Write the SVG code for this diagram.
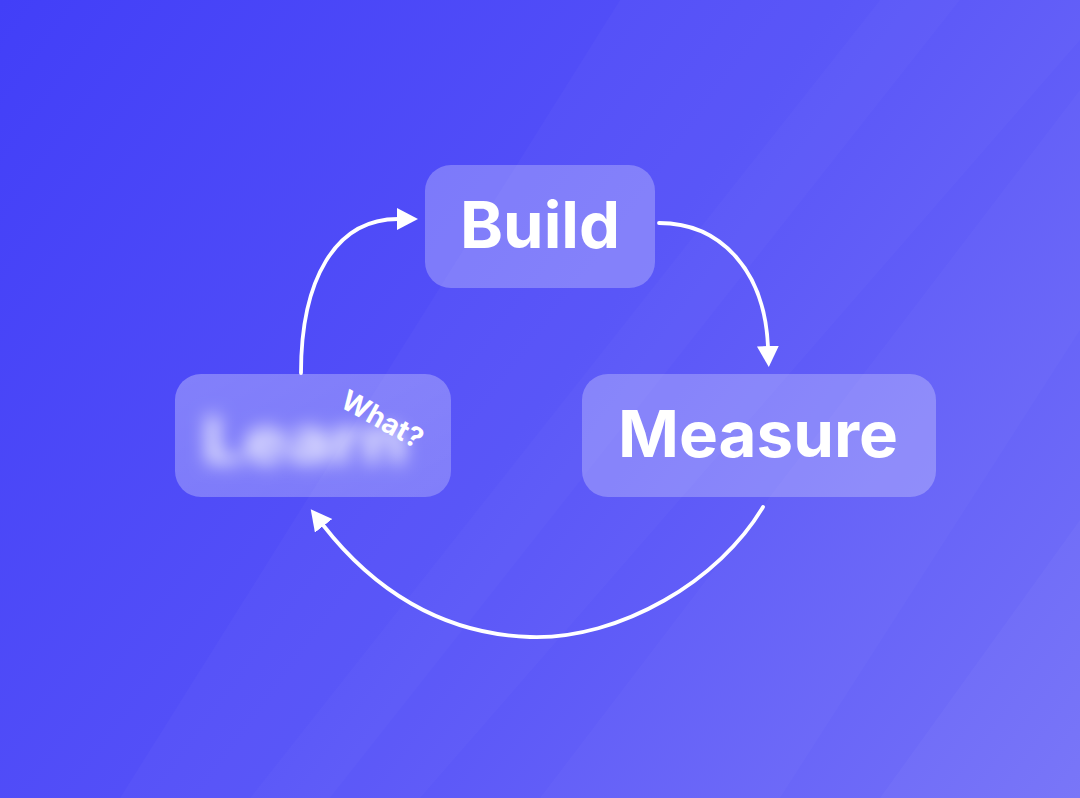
<svg xmlns="http://www.w3.org/2000/svg" width="1080" height="798" viewBox="0 0 1080 798">
<style>
.label{font-family:"Inter","Poppins","Liberation Sans",sans-serif;font-weight:700;fill:#ffffff;text-anchor:middle}
.conn{fill:none;stroke:#ffffff;stroke-width:3.8;stroke-linecap:round}
.box{fill:#ffffff;fill-opacity:0.26}
.streak{fill:#ffffff}
</style>
<defs>
<linearGradient id="bg" x1="0" y1="0" x2="1080" y2="798" gradientUnits="userSpaceOnUse">
<stop offset="0" stop-color="#423ff8"/>
<stop offset="0.5" stop-color="#5652f8"/>
<stop offset="1" stop-color="#7572f8"/>
</linearGradient>
<linearGradient id="learnFill" x1="0" y1="0" x2="1" y2="1">
<stop offset="0" stop-color="#ffffff" stop-opacity="0.30"/>
<stop offset="1" stop-color="#ffffff" stop-opacity="0.24"/>
</linearGradient>
<filter id="blur" x="-20%" y="-60%" width="140%" height="220%">
<feGaussianBlur stdDeviation="9"/>
</filter>
<marker id="head" markerUnits="userSpaceOnUse" markerWidth="24" markerHeight="26" refX="1" refY="11" orient="auto">
<polygon points="0,0 21,11 0,22" fill="#ffffff"/>
</marker>
</defs>
<rect width="1080" height="798" fill="url(#bg)"/>
<g id="streaks">
<polygon class="streak" fill-opacity="0.025" points="120,798 620,0 1080,0 1080,40 420,798"/>
<polygon class="streak" fill-opacity="0.025" points="540,798 1080,90 1080,330 780,798"/>
<polygon class="streak" fill-opacity="0.03" points="880,798 1080,520 1080,798"/>
<polygon class="streak" fill-opacity="0.02" points="250,798 880,0 960,0 330,798"/>
</g>
<g id="connectors">
<path class="conn" d="M301,373 C301,280 335,219 398,219" marker-end="url(#head)"/>
<path class="conn" d="M659,223 C722,223 765,272 768,347" marker-end="url(#head)"/>
<path class="conn" d="M763,507 C720,580 620,640 530,637 C440,634 372,588 323,525" marker-end="url(#head)"/>
</g>
<g id="node-build">
<rect class="box" x="425" y="165" width="230" height="123" rx="26"/>
<text class="label" x="540" y="248" font-size="64" textLength="160" lengthAdjust="spacingAndGlyphs">Build</text>
</g>
<g id="node-measure">
<rect class="box" x="582" y="374" width="354" height="123" rx="26"/>
<text class="label" x="758" y="457" font-size="64" textLength="280" lengthAdjust="spacingAndGlyphs">Measure</text>
</g>
<g id="node-learn">
<rect x="175" y="374" width="276" height="123" rx="26" fill="url(#learnFill)"/>
<text class="label" x="305" y="463" font-size="64" textLength="205" lengthAdjust="spacingAndGlyphs" fill-opacity="0.9" filter="url(#blur)">Learn</text>
<text class="label" x="382" y="429" font-size="28" transform="rotate(29 382 420)">What?</text>
</g>
</svg>
